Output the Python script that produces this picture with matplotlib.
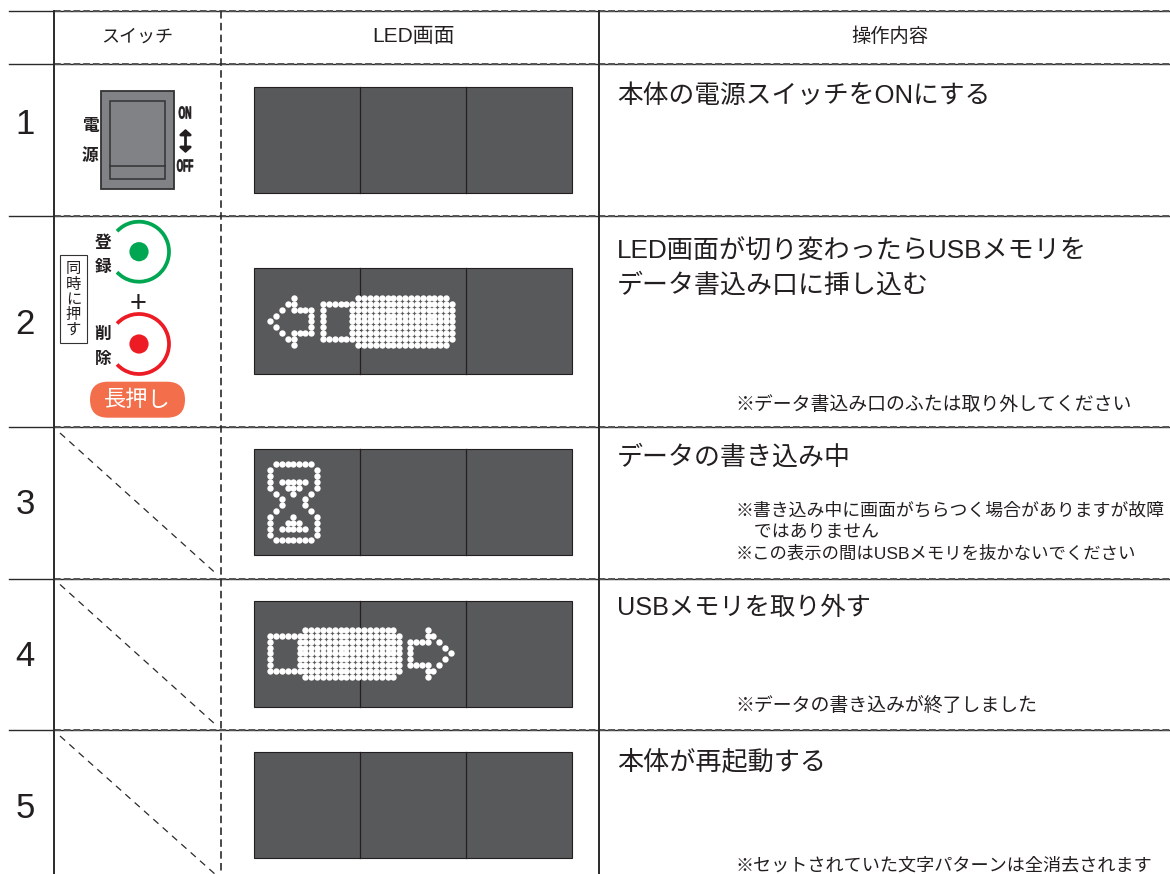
import matplotlib
matplotlib.use("Agg")
import matplotlib.pyplot as plt
from matplotlib.patches import Rectangle, Arc, Circle, FancyBboxPatch
from matplotlib.patheffects import AbstractPathEffect
from matplotlib.transforms import Affine2D

# text of the table
headers = ["スイッチ", "LED画面", "操作内容"]
row_numbers = ["1", "2", "3", "4", "5"]
main_texts = [
    ["本体の電源スイッチをONにする"],
    ["LED画面が切り変わったらUSBメモリを", "データ書込み口に挿し込む"],
    ["データの書き込み中"],
    ["USBメモリを取り外す"],
    ["本体が再起動する"],
]
note_texts = [
    [],
    ["※データ書込み口のふたは取り外してください"],
    ["※書き込み中に画面がちらつく場合がありますが故障", "　ではありません", "※この表示の間はUSBメモリを抜かないでください"],
    ["※データの書き込みが終了しました"],
    ["※セットされていた文字パターンは全消去されます"],
]

# dot patterns shown on the LED screen
usb_dots = [
    "......################.",
    "#######################",
    "#....##################",
    "#....##################",
    "#....##################",
    "#....##################",
    "#....##################",
    "#######################",
    "......################.",
]
arrow_dots = [
    "....#...",
    "...##...",
    "..#.####",
    ".#.....#",
    "#......#",
    ".#.....#",
    "..#.####",
    "...##...",
    "....#...",
]
hourglass_dots = [
    ".#######.",
    "#.......#",
    "#.......#",
    "#.#####.#",
    "#..###..#",
    ".#..#..#.",
    "..#...#..",
    "..#...#..",
    ".#.....#.",
    "#...#...#",
    "#..###..#",
    "#.#####.#",
    "#.......#",
    ".#######.",
]

# layout in pixels
hlines = [11, 64, 215.7, 427, 578.5, 730]
panel_tops = [87, 268, 449, 601, 752]
number_y = [124, 324, 505, 657, 808]
main_y = [[96], [252, 285], [457], [608], [762]]
main_size = [[18.5], [18.8, 18.7], [18.7], [18.2], [18.8]]
note_y = [[], [405], [511, 532, 554], [707], [866]]
note_size = [[], [13.6], [12.9, 12.9, 12.5], [13.6], [13.05]]

LINE = "#2b2a29"
PANEL = "#58595b"
SANS = ["Liberation Sans", "Noto Sans CJK JP"]
BOLD_JP = ["Noto Sans CJK JP"]

fig = plt.figure(figsize=(11.7, 8.74), dpi=100)
ax = fig.add_axes([0, 0, 1, 1])
ax.set_xlim(0, 1170)
ax.set_ylim(874, 0)
ax.axis("off")


# narrows a text horizontally, there is no condensed font for ON / OFF
class Squeeze(AbstractPathEffect):
    def __init__(self, factor, center):
        super().__init__()
        self.factor = factor
        self.center = center

    def draw_path(self, renderer, gc, tpath, affine, rgbFace=None):
        squeeze = Affine2D().translate(-self.center, 0).scale(self.factor, 1).translate(self.center, 0)
        gc.set_linewidth(0.5)
        gc.set_foreground("#231f20")
        renderer.draw_path(gc, tpath, affine + squeeze, rgbFace)


def put_text(x, y, s, size, ha="left", color="#231f20", family=SANS, weight="normal"):
    return ax.text(x, y, s, fontsize=size, ha=ha, va="center", color=color, family=family, weight=weight, zorder=5)


def draw_dots(pattern, left, top, pitch=5.86):
    xs, ys = [], []
    for r, row in enumerate(pattern):
        for c, ch in enumerate(row):
            if ch == "#":
                xs.append(left + c * pitch)
                ys.append(top + r * pitch)
    ax.scatter(xs, ys, s=21, color="white", linewidths=0, zorder=4)


# table lines
for y in hlines:
    ax.plot([9, 1170], [y, y], color=LINE, lw=1.0, zorder=2)
    ax.plot([54, 1170], [y, y], color="#555555", lw=1.4, ls=(0, (3.5, 1.5)), zorder=2)
ax.plot([54, 54], [11, 874], color=LINE, lw=1.4, zorder=2)
ax.plot([598.5, 598.5], [11, 874], color=LINE, lw=1.4, zorder=2)
ax.plot([220.7, 220.7], [11, 874], color=LINE, lw=1.2, ls=(0, (4.5, 2.6)), zorder=2)

# diagonals of the empty switch cells
for top, bottom in [(hlines[3], hlines[4]), (hlines[4], hlines[5]), (hlines[5], 880)]:
    ax.plot([60, 216], [top + 6, bottom - 5], color=LINE, lw=0.9, ls=(0, (5.5, 4.5)), zorder=2)

# headers
put_text(137.5, 37, headers[0], 13, ha="center")
put_text(413, 37, headers[1], 15, ha="center")
put_text(889.5, 37, headers[2], 13.9, ha="center")

# row numbers and text
for i in range(5):
    put_text(25, number_y[i], row_numbers[i], 25, ha="center")
    for s, y, size in zip(main_texts[i], main_y[i], main_size[i]):
        put_text(617, y, s, size)
    for s, y, size in zip(note_texts[i], note_y[i], note_size[i]):
        put_text(735.5, y, s, size)

# LED panels
for top in panel_tops:
    ax.add_patch(Rectangle((254, top), 318, 106, facecolor=PANEL, edgecolor="#231f20", lw=0.8, zorder=3))
    for x in [360, 466]:
        ax.plot([x, x], [top, top + 106], color="#231f20", lw=0.9, zorder=3)

# dot pictures on the panels
draw_dots(arrow_dots, 270.3, 298)
draw_dots(usb_dots, 270.3 + 9 * 5.86, 298)
draw_dots(hourglass_dots, 270, 464.3)
draw_dots(usb_dots, 270.3, 630)
draw_dots([row[::-1] for row in arrow_dots], 270.3 + 24 * 5.82, 630)

# power switch
ax.add_patch(Rectangle((101.3, 90.7), 72.4, 98.3, facecolor="#808285", edgecolor="#333333", lw=1.3, zorder=3))
ax.add_patch(Rectangle((110.3, 101), 54.7, 77.7, facecolor="#808285", edgecolor="#333333", lw=1.1, zorder=3))
ax.plot([110.3, 165], [165.7, 165.7], color="#333333", lw=1.1, zorder=4)
put_text(90, 126, "電", 12, ha="center", family=BOLD_JP, weight="bold")
put_text(90, 156, "源", 12, ha="center", family=BOLD_JP, weight="bold")
on_label = put_text(185, 114, "ON", 12.5, ha="center", weight="bold")
on_label.set_path_effects([Squeeze(0.5, 185)])
off_label = put_text(185, 167, "OFF", 12.5, ha="center", weight="bold")
off_label.set_path_effects([Squeeze(0.48, 185)])
ax.annotate("", xy=(185.5, 129), xytext=(185.5, 153),
            arrowprops=dict(arrowstyle="<|-|>,head_width=0.34,head_length=0.3", color="#231f20", lw=2.0,
                            shrinkA=0, shrinkB=0), zorder=4)

# register / delete buttons
for cy, color in [(251.7, "#00a651"), (344, "#ed1c24")]:
    ax.add_patch(Arc((139, cy), 60, 60, theta1=-137, theta2=137, color=color, lw=2.7, zorder=3))
    ax.add_patch(Circle((139, cy), 9.6, facecolor=color, edgecolor="none", zorder=3))
put_text(103, 243, "登", 12, ha="center", family=BOLD_JP, weight="bold")
put_text(103, 267, "録", 12, ha="center", family=BOLD_JP, weight="bold")
put_text(103, 334, "削", 12, ha="center", family=BOLD_JP, weight="bold")
put_text(103, 359, "除", 12, ha="center", family=BOLD_JP, weight="bold")
put_text(137.7, 304, "+", 21, ha="center")

# "press together" box with vertical text
ax.add_patch(Rectangle((59.7, 255), 27.3, 88, facecolor="white", edgecolor="#333333", lw=0.8, zorder=3))
for ch, y in zip("同時に押す", [269, 285, 300, 315, 330]):
    put_text(73.3, y, ch, 11, ha="center")

# long press pill
ax.add_patch(FancyBboxPatch((90, 381.7), 95, 36, boxstyle="round,pad=0,rounding_size=18",
                            facecolor="#f36f4c", edgecolor="none", zorder=3))
put_text(137.5, 400, "長押し", 16, ha="center", color="white")

fig.savefig("out.png", dpi=100)
